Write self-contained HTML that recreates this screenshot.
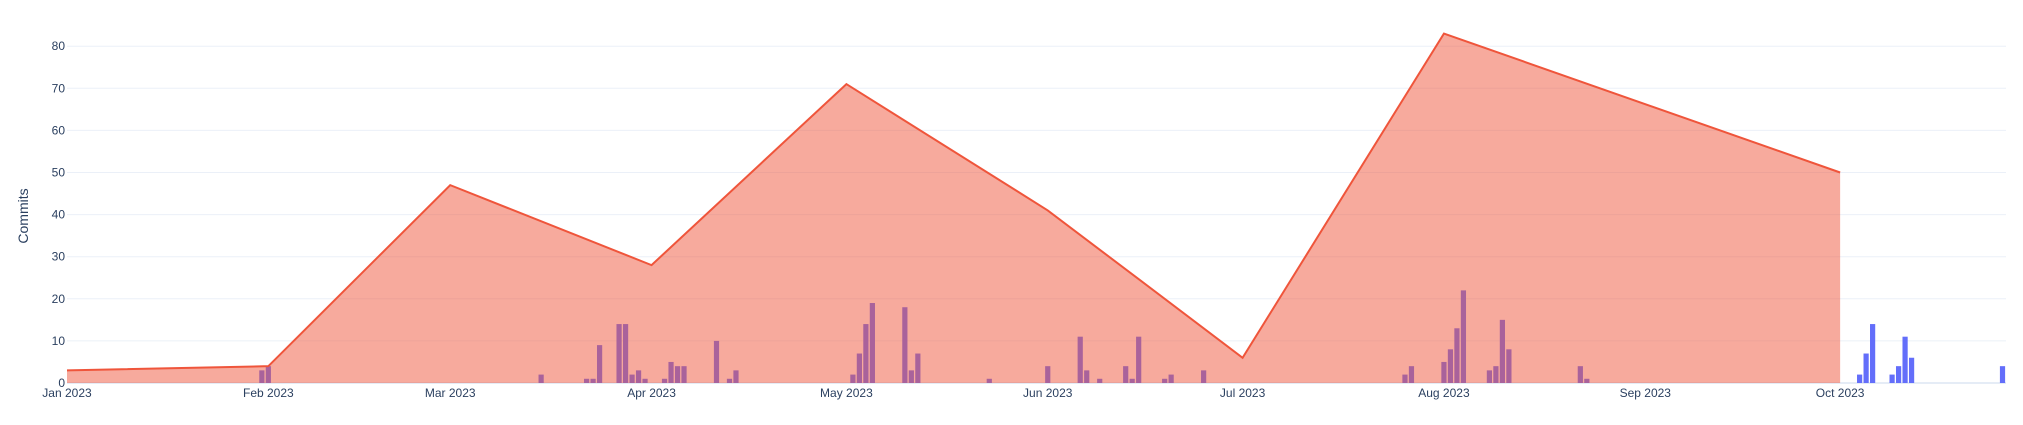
<!DOCTYPE html>
<html><head><meta charset="utf-8"><style>
body{margin:0;background:#fff;}
svg{display:block;font-family:"Liberation Sans",sans-serif;}
</style></head><body>
<svg id="chart" width="2023" height="425" xmlns="http://www.w3.org/2000/svg"></svg>
<script>
const yTicks=[0,10,20,30,40,50,60,70,80];
const monthLabels=["Jan 2023","Feb 2023","Mar 2023","Apr 2023","May 2023","Jun 2023","Jul 2023","Aug 2023","Sep 2023","Oct 2023"];
const monthDays=[0,31,59,90,120,151,181,212,243,273];
const areaDays=[0,31,59,90,120,151,181,212,273];
const areaValues=[3,4,47,28,71,41,6,83,50];
const barDays=[30,31,73,80,81,82,85,86,87,88,89,92,93,94,95,100,102,103,121,122,123,124,129,130,131,142,151,156,157,159,163,164,165,169,170,175,206,207,212,213,214,215,219,220,221,222,233,234,276,277,278,281,282,283,284,298];
const barValues=[3,4,2,1,1,9,14,14,2,3,1,1,5,4,4,10,1,3,2,7,14,19,18,3,7,1,4,11,3,1,4,1,11,1,2,3,2,4,5,8,13,22,3,4,15,8,4,1,2,7,14,2,4,11,6,4];

const NS="http://www.w3.org/2000/svg";
const svg=document.getElementById('chart');
const X0=67,PXD=6.495,XR=2006,Y0=383,PYU=4.21;
const x=d=>X0+d*PXD, y=v=>Y0-v*PYU;
function mk(t,a,p){const e=document.createElementNS(NS,t);for(const k in a)e.setAttribute(k,a[k]);(p||svg).appendChild(e);return e;}

const grid=mk('g',{});


yTicks.forEach(v=>{
  const l=mk('line',{x1:X0,x2:XR,y1:y(v),y2:y(v),stroke:v===0?'#e5ecf6':'#ebf0f8','stroke-width':v===0?2:1},grid);
  
  
  const t=mk('text',{x:X0-2,y:y(v)+4,'text-anchor':'end','font-size':12,fill:'#2a3f5f'});
  t.textContent=v;
  
  
});
monthLabels.forEach((m,i)=>{
  const t=mk('text',{x:x(monthDays[i]),y:397,'text-anchor':'middle','font-size':12,fill:'#2a3f5f'});
  t.textContent=m;
  
  
});
const yt=mk('text',{x:0,y:0,transform:'translate(28,216) rotate(-90)','text-anchor':'middle','font-size':14,fill:'#2a3f5f'});
yt.textContent='Commits';



const bars=mk('g',{});


barDays.forEach((d,i)=>{
  const r=mk('rect',{x:x(d)-2.6,width:5.2,y:y(barValues[i]),height:barValues[i]*PYU,fill:'#636efa'},bars);
  
  
});

let pts=areaDays.map((d,i)=>x(d)+','+y(areaValues[i])).join(' ');
const poly=mk('polygon',{points:x(areaDays[0])+','+Y0+' '+pts+' '+x(areaDays[areaDays.length-1])+','+Y0,fill:'rgba(239,85,59,0.5)'});


const pl=mk('polyline',{points:pts,fill:'none',stroke:'#EF553B','stroke-width':2});


</script>
</body></html>
